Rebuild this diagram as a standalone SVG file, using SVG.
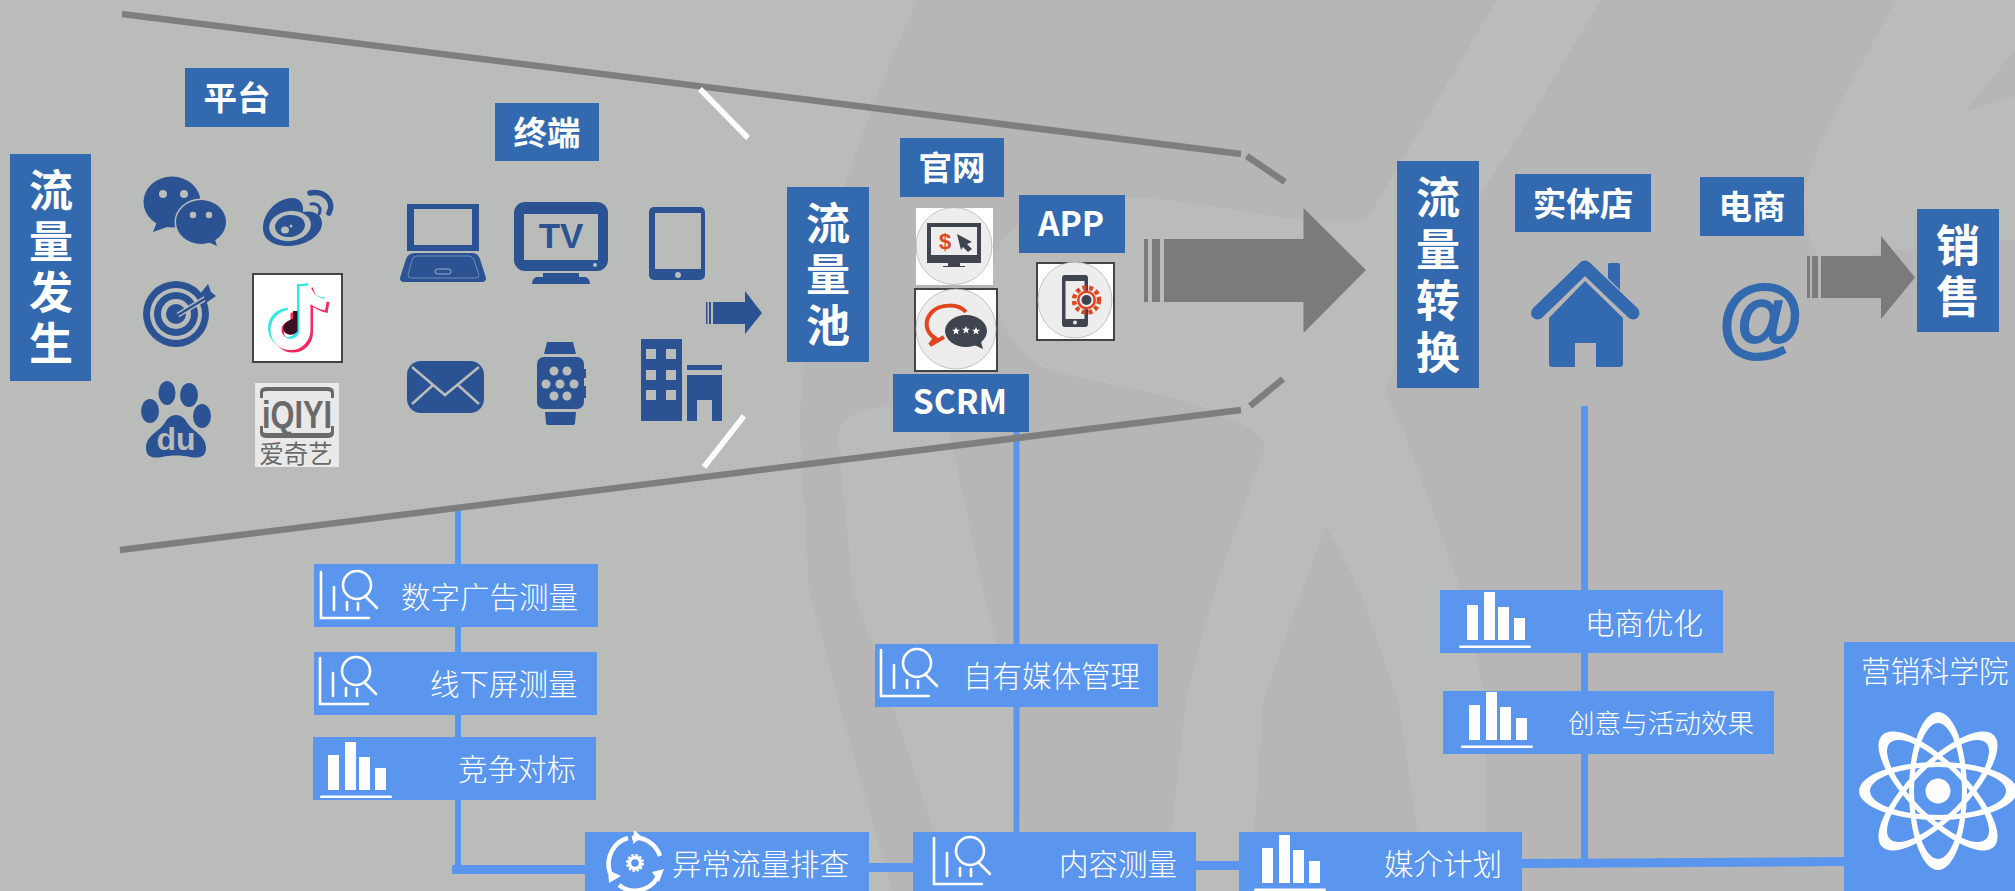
<svg xmlns="http://www.w3.org/2000/svg" width="2015" height="891" viewBox="0 0 2015 891">
<style>
.db{fill:#3269AF}.lb{fill:#5B96EE}.ic{fill:#2B5393}.bg{fill:#BABCBA}
.t{font-family:"Noto Sans CJK SC","Noto Sans",sans-serif;fill:#fff}
.b{font-weight:700;font-size:33.500px;text-anchor:middle}
.v{font-weight:700;font-size:44px;text-anchor:middle}
.l{font-weight:300;font-size:29.500px}
.g{stroke:#7E7E7E;stroke-width:6.500;fill:none}
.w{stroke:#fff;stroke-width:5.500;fill:none}
.wl{stroke:#fff;stroke-width:2.600;fill:none;stroke-linecap:round}
.dk{fill:#3F444F}.or{fill:#E2451F}
</style>
<defs>
<g id="bars"><rect x="15" y="18" width="11" height="35" fill="#fff"/><rect x="32" y="5" width="11" height="48" fill="#fff"/><rect x="46" y="20" width="11" height="33" fill="#fff"/><rect x="62" y="31" width="11" height="22" fill="#fff"/><rect x="7" y="58.500" width="72" height="2.500" rx="1.200" fill="#fff"/></g>
<g id="ana"><path class="wl" d="M7 8V54H55M20 23V46M33 38V46M44 39V46M51 32L63 44"/><circle class="wl" cx="43" cy="21" r="14"/></g>
<path id="orb" fill="#fff" fill-rule="evenodd" d="M-79 0A79 29 0 1 0 79 0A79 29 0 1 0 -79 0ZM-68 0A68 24 0 1 1 68 0A68 24 0 1 1 -68 0Z"/>
<polygon id="star" fill="#fff" points="0,-4 1.100,-1.300 4,-1.200 1.700,.6 2.500,3.400 0,1.800 -2.500,3.400 -1.700,.6 -4,-1.200 -1.100,-1.300"/>
</defs>

<g id="background">
<rect class="bg" width="2015" height="891"/>
<g fill="#B6B6B6">
<path d="M917 0L1497 0L1408 150L1368 218C1300 232 1200 195 1116 198C1050 200 993 225 993 270C993 320 1015 352 1040 366C1090 386 1190 390 1252 430L1266 445L1215 590L1186 700L1171 835L1171 891L1022 891L1022 835L1012 700L983 590L949 430C945 412 925 407 900 407C860 405 838 418 838 440L853 590L891 700L935 835L945 891L892 891L838 700L809 590L800 430C800 300 850 150 917 0Z"/>
<path d="M1326 525L1302 590L1263 700L1254 835L1254 891L1418 891L1418 835L1398 700L1360 590Z"/>
<path d="M1601 0L1896 0C1860 70 1804 160 1804 200C1804 230 1815 255 1823 264L1900 250L2015 239L2015 891L1486 891L1486 700L1461 590L1403 430L1385 392C1400 340 1478 191 1510 150Z"/>
<path d="M2015 50L1965 111L2015 96Z"/>
</g>
</g>

<g id="connectors">
<path class="lb" d="M455 510H461V865H585V874H452V865H455Z"/>
<rect class="lb" x="869" y="863" width="44" height="9"/>
<rect class="lb" x="1013.500" y="430" width="6" height="402"/>
<rect class="lb" x="1196" y="861" width="43" height="9"/>
<rect class="lb" x="1581" y="406" width="7" height="453"/>
<path class="lb" d="M1522 859L1844 857V866L1522 868Z"/>
<path class="g" d="M122 14L1241 154M1246.600 156L1285 182M120 550L1241 410M1250 406L1283 379"/>
<path class="w" d="M700 89L748 138M744 416L704 467"/>
<g fill="#7B7B7B">
<path d="M1144 239h4v63h-4zM1152 239h8v63h-8zM1164 239H1303.500V208L1366 270L1303.500 333V302H1164Z"/>
<path d="M1807 256h3v42h-3zM1812 256h6v42h-6zM1821 256H1881V236L1915 277.500L1881 319V298H1821Z"/>
</g>
<path class="ic" d="M706 302h1.500v22H706zM709 302h2v22h-2zM713 302H745V291L762 313L745 334V324H713Z"/>
</g>

<g id="node-liuliangfasheng"><rect class="db" x="10" y="154" width="81" height="227"/>
<text class="t v"><tspan x="51" y="207">流</tspan><tspan x="51" y="258">量</tspan><tspan x="51" y="309">发</tspan><tspan x="51" y="360">生</tspan></text></g>
<g id="node-pingtai"><rect class="db" x="185" y="68" width="104" height="59"/><text class="t b" x="237" y="110">平台</text></g>
<g id="node-zhongduan"><rect class="db" x="495" y="103" width="104" height="58"/><text class="t b" x="547" y="145">终端</text></g>
<g id="node-liuliangchi"><rect class="db" x="787" y="187" width="82" height="175"/>
<text class="t v"><tspan x="828" y="240">流</tspan><tspan x="828" y="291">量</tspan><tspan x="828" y="342">池</tspan></text></g>
<g id="node-guanwang"><rect class="db" x="900" y="138" width="104" height="59"/><text class="t b" x="952" y="180">官网</text></g>
<g id="node-app"><rect class="db" x="1019" y="195" width="106" height="58"/><text class="t b" x="1071" y="236">APP</text></g>
<g id="node-scrm"><rect class="db" x="893" y="374" width="136" height="58"/><text class="t b" x="960" y="414">SCRM</text></g>
<g id="node-liuliangzhuanhuan"><rect class="db" x="1397" y="161" width="82" height="227"/>
<text class="t v"><tspan x="1438" y="214">流</tspan><tspan x="1438" y="266">量</tspan><tspan x="1438" y="317">转</tspan><tspan x="1438" y="369">换</tspan></text></g>
<g id="node-shitidian"><rect class="db" x="1515" y="174" width="136" height="58"/><text class="t b" x="1583" y="216">实体店</text></g>
<g id="node-dianshang"><rect class="db" x="1700" y="177" width="104" height="59"/><text class="t b" x="1752" y="219">电商</text></g>
<g id="node-xiaoshou"><rect class="db" x="1917" y="209" width="82" height="123"/>
<text class="t v"><tspan x="1958" y="262">销</tspan><tspan x="1958" y="313">售</tspan></text></g>

<g id="icon-wechat" class="ic">
<ellipse cx="172" cy="202" rx="28.500" ry="25.500"/><path d="M157 222L153 232L170 226Z"/>
<ellipse cx="201" cy="222" rx="26.500" ry="23.500" class="bg"/>
<ellipse cx="201" cy="222" rx="25" ry="22"/><path d="M208 242L217 246L214 236Z"/>
<g class="bg"><circle cx="163" cy="194" r="4"/><circle cx="184" cy="194" r="4"/><circle cx="193" cy="215" r="3.200"/><circle cx="209" cy="215" r="3.200"/></g>
</g>
<g id="icon-weibo">
<path class="ic" d="M263 228C263 212 278 198 292 198C300 198 304 204 303 212C312 210 322 214 322 223C322 236 305 246 288 246C274 246 263 240 263 228Z"/>
<ellipse class="bg" cx="290" cy="226" rx="21" ry="15" transform="rotate(-8 290 226)"/>
<ellipse class="ic" cx="290" cy="226" rx="15" ry="11" transform="rotate(-8 290 226)"/>
<ellipse class="bg" cx="285" cy="230" rx="4" ry="3.500"/><circle class="bg" cx="291" cy="226" r="1.500"/>
<path d="M310 193C325 190 335 202 329 213" fill="none" stroke="#2B5393" stroke-width="5.500" stroke-linecap="round"/>
<path d="M311 204C318 203 322 208 319 214" fill="none" stroke="#2B5393" stroke-width="3" stroke-linecap="round"/>
</g>
<g id="icon-target">
<circle class="ic" cx="176" cy="314" r="33"/><circle class="bg" cx="176" cy="314" r="26"/><circle class="ic" cx="176" cy="314" r="22"/><circle class="bg" cx="176" cy="314" r="15"/><circle class="ic" cx="176" cy="314" r="10"/>
<path d="M178 315L206 298" stroke="#BABCBA" stroke-width="5"/><path d="M178 315L206 298" stroke="#2B5393" stroke-width="2.500"/>
<path class="ic" d="M200 294L208 284L211 292L216 296L206 303L204 296Z"/>
</g>
<g id="icon-douyin">
<rect x="253" y="274" width="89" height="88" fill="#fff" stroke="#444" stroke-width="2"/>
<g fill="none" stroke-width="11">
<path stroke="#2FE8E8" transform="translate(-2.500 -2)" d="M305 286V330A14.500 14.500 0 1 1 290.500 315.500M305 286C307 296 315 303 326 305"/>
<path stroke="#F4295E" transform="translate(2.500 2.500)" d="M305 286V330A14.500 14.500 0 1 1 290.500 315.500M305 286C307 296 315 303 326 305"/>
<path stroke="#fff" d="M305 286V330A14.500 14.500 0 1 1 290.500 315.500M305 286C307 296 315 303 326 305"/>
</g>
<path fill="#3A0F20" d="M297.500 311V331A8 8 0 0 1 283 329C283 324 288 320 293 319V311Z"/>
</g>
<g id="icon-iqiyi">
<rect x="255" y="383" width="84" height="84" fill="#E9E9E9"/>
<path d="M260 398V392Q260 387 267 387H327Q334 387 334 392V398H331V393Q331 391 327 391H267Q263 391 263 393V398ZM260 426V433Q260 438 267 438H327Q334 438 334 433V426H331V431Q331 433 327 433H267Q263 433 263 431V426Z" fill="#6A6A6A"/>
<text x="297" y="428" text-anchor="middle" textLength="70" lengthAdjust="spacingAndGlyphs" font-family="Liberation Sans,sans-serif" font-weight="700" font-size="39" fill="#6A6A6A">iQIYI</text>
<text x="296" y="463" text-anchor="middle" font-family="Noto Sans CJK SC,sans-serif" font-size="24.500" fill="#6A6A6A">爱奇艺</text>
</g>
<g id="icon-baidu">
<g class="ic"><ellipse cx="167" cy="393" rx="8.500" ry="12"/><ellipse cx="189" cy="395" rx="9" ry="12"/><ellipse cx="150" cy="411" rx="9" ry="12"/><ellipse cx="202" cy="416" rx="9" ry="12"/>
<path d="M146 448C146 436 158 432 164 424C170 412 182 412 188 424C194 432 206 436 206 448C206 459 196 458 190 457C182 455 170 455 162 457C156 458 146 459 146 448Z"/></g>
<text x="176" y="450" text-anchor="middle" font-family="Liberation Sans,sans-serif" font-weight="700" font-size="32" fill="#BABCBA">du</text>
</g>

<g id="icon-laptop"><path class="ic" fill-rule="evenodd" d="M407 204H479V251H407ZM414 209V245H472V209Z"/>
<path class="ic" d="M415 253H472Q478 253 480 259L486 278Q486 282 482 282H404Q400 282 400 278L406 259Q408 253 415 253Z"/>
<path d="M417 256H469Q472 256 474 260L479 275Q479 278 476 278H411Q408 278 408 275L412 260Q413 256 417 256Z" fill="none" stroke="#8FA3C4" stroke-width=".7"/>
<rect x="435" y="269" width="16" height="5" rx="2.500" fill="none" stroke="#B9C4D8" stroke-width=".8"/></g>
<g id="icon-tv"><rect class="ic" x="514" y="202" width="94" height="69" rx="11"/><rect class="bg" x="524" y="214" width="74" height="46"/>
<path class="ic" d="M543 273H579V277H586Q590 279 590 284H532Q532 279 536 277H543Z"/><circle class="bg" cx="595" cy="265" r="2"/>
<text x="561" y="248" text-anchor="middle" font-family="Liberation Sans,sans-serif" font-weight="700" font-size="35" fill="#2B5393">TV</text></g>
<g id="icon-tablet"><rect class="ic" x="649" y="207" width="56" height="73" rx="5"/><rect class="bg" x="655" y="213" width="46" height="56"/><circle class="bg" cx="678" cy="275" r="3"/></g>
<g id="icon-mail"><rect class="ic" x="407" y="361" width="77" height="52" rx="14"/>
<path d="M412 367L445 395L479 367M412 404L433 385M479 404L458 385" fill="none" stroke="#BABCBA" stroke-width="2.500"/></g>
<g id="icon-watch"><path class="ic" d="M547 342H573L576 354H544ZM545 412H576L575 423Q575 425 573 425H548Q546 425 546 423Z"/>
<rect class="ic" x="537" y="357" width="47" height="52" rx="7"/><rect class="ic" x="583" y="369" width="3" height="9"/><rect class="ic" x="583" y="386" width="3" height="12"/>
<g class="bg"><circle cx="554" cy="371" r="4.500"/><circle cx="567" cy="371" r="4.500"/><circle cx="546" cy="384" r="4.500"/><circle cx="560" cy="384" r="4.500"/><circle cx="574" cy="384" r="4.500"/><circle cx="554" cy="396" r="4.500"/><circle cx="567" cy="396" r="4.500"/></g></g>
<g id="icon-building"><rect class="ic" x="641" y="339" width="41" height="82"/><g class="bg"><rect x="646" y="349" width="10" height="10"/><rect x="666" y="349" width="10" height="10"/><rect x="646" y="370" width="10" height="10"/><rect x="666" y="370" width="10" height="10"/><rect x="646" y="390" width="10" height="10"/><rect x="666" y="390" width="10" height="10"/></g>
<path class="ic" d="M687 365H722V370H687ZM687 375H722V421H712V400H697V421H687Z"/></g>

<g id="icon-web"><rect x="916" y="208" width="77" height="77" fill="#fff"/><ellipse cx="954" cy="246" rx="38" ry="38.500" fill="#ECEDEC" stroke="#AAA" stroke-width=".7"/>
<path class="dk" d="M927 223H981V263H927ZM948 263H960V266H965V267H943V266H948Z"/><rect x="931" y="227" width="46" height="28" fill="#ECEDEC"/>
<text x="945" y="249" text-anchor="middle" font-family="Liberation Sans,sans-serif" font-weight="700" font-size="22" fill="#E2451F">$</text>
<path class="dk" d="M957 234L972 242L967 244L972 249L968 252L963 247L961 250Z"/></g>
<g id="icon-chat"><rect x="915" y="289" width="82" height="82" fill="#fff" stroke="#444" stroke-width="2"/><ellipse cx="956" cy="329" rx="40" ry="40" fill="#ECEDEC" stroke="#AAA" stroke-width=".7"/>
<path d="M966 312C958 303 940 304 932 312C924 320 925 332 935 338L930 345L944 337" fill="none" stroke="#E2451F" stroke-width="4"/>
<ellipse class="dk" cx="966" cy="331" rx="21" ry="16"/><path class="dk" d="M972 344L983 349L980 338Z"/>
<use href="#star" x="956" y="331"/><use href="#star" x="966" y="330"/><use href="#star" x="976" y="331"/></g>
<g id="icon-phone"><rect x="1037" y="263" width="77" height="77" fill="#fff" stroke="#444" stroke-width="2"/><ellipse cx="1075" cy="300" rx="37" ry="38" fill="#ECEDEC" stroke="#AAA" stroke-width=".7"/>
<rect class="dk" x="1062" y="275" width="26" height="52" rx="3"/><rect x="1065.500" y="281" width="19" height="38" fill="#ECEDEC"/><circle cx="1075" cy="322.500" r="2" fill="#ECEDEC"/>
<circle cx="1086.500" cy="300" r="12.500" fill="none" stroke="#E2451F" stroke-width="4.500" stroke-dasharray="4 2.800"/>
<circle cx="1086.500" cy="300" r="9.500" class="or"/><circle cx="1086.500" cy="300" r="7" fill="#ECEDEC"/><circle cx="1086.500" cy="300" r="5" class="dk"/></g>

<g id="icon-house" class="db">
<path d="M1537.500 313L1585 267L1633 313" fill="none" stroke="#3269AF" stroke-width="13" stroke-linecap="round" stroke-linejoin="round"/>
<path d="M1608 264Q1608 263 1610 263H1618Q1620 263 1620 265V290L1608 278Z"/>
<path d="M1585 281L1623 318V364Q1623 367 1620 367H1596V343H1575V367H1552Q1549 367 1549 364V318Z"/>
</g>
<g id="icon-at"><text x="1761" y="346" text-anchor="middle" font-family="Liberation Sans,sans-serif" font-weight="700" font-size="87" fill="#3269AF" stroke="#3269AF" stroke-width="2">@</text></g>

<g id="node-shuzi"><rect class="lb" x="314" y="564" width="284" height="63"/><use href="#ana" x="314" y="564"/><text class="t l" x="401" y="608">数字广告测量</text></g>
<g id="node-xianxia"><rect class="lb" x="314" y="652" width="283" height="63"/><use href="#ana" x="313" y="650"/><text class="t l" x="430" y="695">线下屏测量</text></g>
<g id="node-jingzheng"><rect class="lb" x="313" y="737" width="283" height="63"/><use href="#bars" x="313" y="737"/><text class="t l" x="458" y="780">竞争对标</text></g>
<g id="node-yichang"><rect class="lb" x="585" y="832" width="284" height="59"/>
<g transform="translate(635 863)"><g fill="none" stroke="#fff" stroke-width="4.500"><path d="M-3 -25A26 27 0 0 1 25 -7"/><path d="M25 8A26 27 0 0 1 -16 22"/><path d="M-25 10A26 27 0 0 1 -7 -25"/></g>
<path fill="#fff" d="M-1 -33L7 -26L-2 -19ZM29 6L24 19L17 9ZM-26 20L-27 7L-14 13Z"/><circle r="8" fill="none" stroke="#fff" stroke-width="2" stroke-dasharray="2.500 1.700"/><circle r="5.500" fill="none" stroke="#fff" stroke-width="3.500"/></g>
<text class="t l" x="672" y="875">异常流量排查</text></g>
<g id="node-ziyou"><rect class="lb" x="875" y="644" width="283" height="63"/><use href="#ana" x="874" y="642"/><text class="t l" x="963" y="687">自有媒体管理</text></g>
<g id="node-neirong"><rect class="lb" x="913" y="832" width="283" height="59"/><use href="#ana" x="927" y="830"/><text class="t l" x="1059" y="875">内容测量</text></g>
<g id="node-meijie"><rect class="lb" x="1239" y="832" width="283" height="59"/><use href="#bars" x="1247" y="830"/><text class="t l" x="1384" y="875">媒介计划</text></g>
<g id="node-dianshangyouhua"><rect class="lb" x="1440" y="590" width="283" height="63"/><use href="#bars" x="1452" y="587"/><text class="t l" x="1585" y="634">电商优化</text></g>
<g id="node-chuangyi"><rect class="lb" x="1443" y="691" width="331" height="63"/><use href="#bars" x="1454" y="687"/><text class="t l" style="font-size:26.600px" x="1568" y="733">创意与活动效果</text></g>
<g id="node-yingxiao"><rect class="lb" x="1844" y="642" width="171" height="249"/><text class="t l" x="1861" y="682">营销科学院</text>
<g transform="translate(1938 791)"><use href="#orb"/><use href="#orb" transform="rotate(90)"/><use href="#orb" transform="rotate(45)"/><use href="#orb" transform="rotate(-45)"/><circle r="12.500" fill="#fff"/></g></g>
</svg>
